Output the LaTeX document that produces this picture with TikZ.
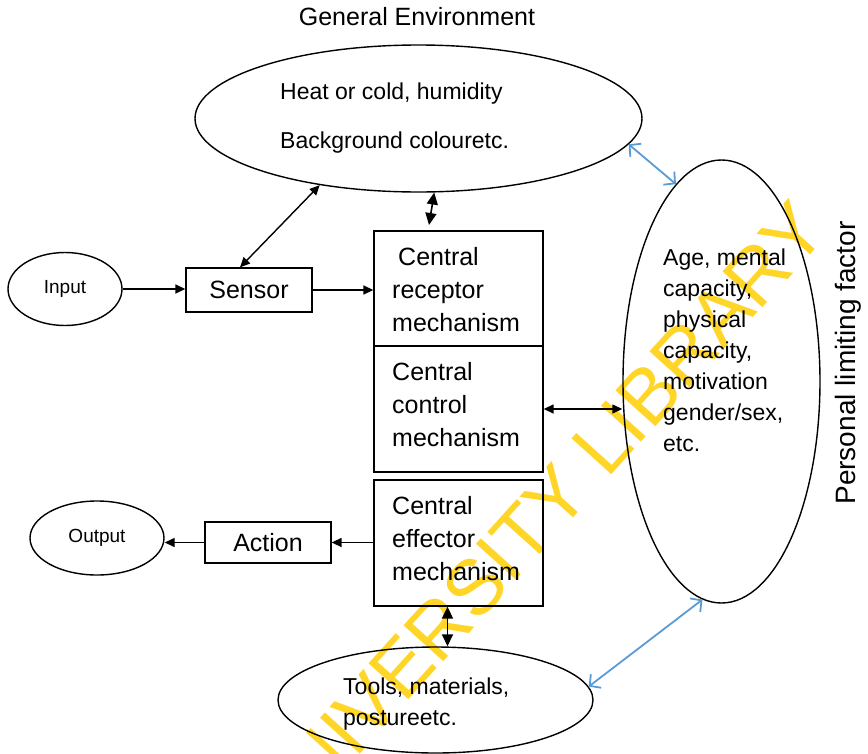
\documentclass[tikz,border=0pt]{standalone}
\usepackage{fontspec}
\setmainfont{Liberation Sans}
\usetikzlibrary{arrows.meta,shapes.geometric,calc}
\definecolor{wmyellow}{RGB}{255,214,40}
\definecolor{linkblue}{RGB}{91,155,213}
\begin{document}
\begin{tikzpicture}[x=1pt,y=-1pt,
  ell/.style={draw, ellipse, line width=1.4pt, inner sep=0pt},
  boxnode/.style={draw, rectangle, line width=1.3pt, inner sep=0pt},
  txt/.style={inner sep=0pt, align=left, anchor=west},
  blk/.style={line width=1.4pt, -{Triangle[length=10pt,width=9pt]}},
  blkboth/.style={line width=1.4pt, {Triangle[length=10pt,width=9pt]}-{Triangle[length=10pt,width=9pt]}},
  blkbig/.style={line width=1.6pt, {Triangle[length=12pt,width=11pt]}-{Triangle[length=12pt,width=11pt]}},
  blu/.style={line width=1.8pt, draw=linkblue, {Straight Barb[length=8pt,width=17pt,line width=1.8pt]}-{Straight Barb[length=8pt,width=17pt,line width=1.8pt]}}
]
\useasboundingbox (0,0) rectangle (868,753);
% watermark
\node[rotate=48, text=wmyellow, font=\fontsize{78}{78}\selectfont, inner sep=0pt] (wm) at (535,520) {UNIVERSITY LIBRARY};

% title
\node[font=\fontsize{25}{30}\selectfont, inner sep=0pt] (title) at (417,17) {General Environment};

% ellipses
\node[ell, minimum width=447pt, minimum height=147pt] (genv) at (418.5,118.5) {};
\node[txt, font=\fontsize{23}{49}\selectfont] (genvtext) at (280,118) {Heat or cold, humidity\\Background colouretc.};

\node[ell, minimum width=114pt, minimum height=73pt, font=\fontsize{19}{23}\selectfont] (input) at (65,289) {Input};
\node[ell, minimum width=134pt, minimum height=74pt, font=\fontsize{19}{23}\selectfont] (output) at (97,538) {Output};

\node[ell, minimum width=315pt, minimum height=106pt] (tools) at (435.5,700) {};
\node[txt, font=\fontsize{23}{31}\selectfont] (toolstext) at (343,704) {Tools, materials,\\postureetc.};

\node[ell, minimum width=197pt, minimum height=443pt] (personal) at (721.5,381.5) {};
\node[txt, font=\fontsize{23}{31}\selectfont] (personaltext) at (663,350) {Age, mental\\capacity,\\physical\\capacity,\\motivation\\gender/sex,\\etc.};
\node[rotate=90, font=\fontsize{28}{32}\selectfont, inner sep=0pt] (plabel) at (848,363) {Personal limiting factor};

% boxes
\node[boxnode, minimum width=126pt, minimum height=44pt, font=\fontsize{25}{30}\selectfont] (sensor) at (249,290) {Sensor};
\node[boxnode, minimum width=126pt, minimum height=41pt, font=\fontsize{25}{30}\selectfont] (action) at (268,542.5) {Action};

\node[boxnode, minimum width=169pt, minimum height=115pt] (receptor) at (458.5,288.5) {};
\node[boxnode, minimum width=169pt, minimum height=126pt] (control) at (458.5,409) {};
\node[boxnode, minimum width=169pt, minimum height=126pt] (effector) at (458.5,543) {};

\node[txt, font=\fontsize{25}{33}\selectfont] (receptortext) at (392,289.5) {\hspace*{6pt}Central\\receptor\\mechanism};
\node[txt, font=\fontsize{25}{33}\selectfont] (controltext) at (392,405) {Central\\control\\mechanism};
\node[txt, font=\fontsize{25}{33}\selectfont] (effectortext) at (392,539) {Central\\effector\\mechanism};

% connectors
\draw[blk] (input.east) -- (input.east -| sensor.west);
\draw[blk] (sensor.east) -- (sensor.east -| receptor.west);
\draw[blkboth] ([xshift=-9pt]sensor.north) -- (genv.214);
\coordinate (recarrow) at (429,225);
\draw[blkbig] (genv.282) -- (recarrow);
\draw[blkboth] (control.east) -- (control.east -| personal.west);
\draw[blk] (action.east -| effector.west) -- (action.east);
\draw[blk] (action.west) -- (action.west -| output.east);
\draw[blkbig] ([xshift=-11pt]effector.south) -- ([xshift=-11pt]effector.south |- tools.north);
\draw[blu] (genv.353) -- (personal.103);
\draw[blu] (tools.5) -- (personal.265);
\end{tikzpicture}
\end{document}
